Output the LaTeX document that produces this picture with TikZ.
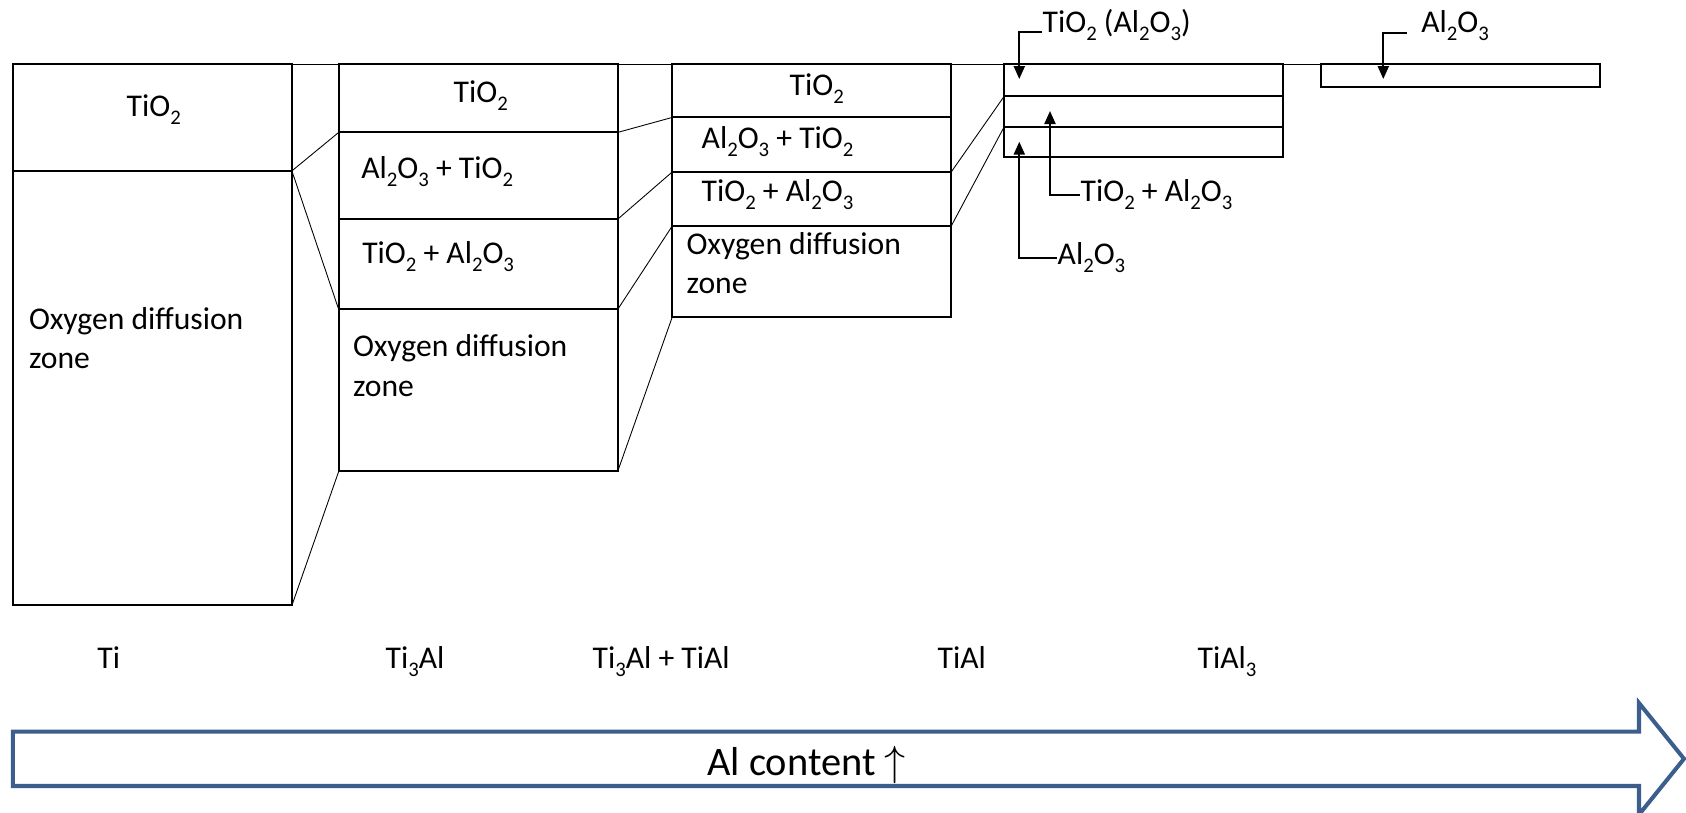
\documentclass[tikz,border=0pt]{standalone}
\usepackage{fontspec}
\setmainfont{Carlito}
\usetikzlibrary{arrows.meta, positioning}
\definecolor{arrowblue}{HTML}{3B5E8C}
\newcommand{\lowidx}[1]{\raisebox{-2.3pt}{\fontsize{5.9}{6}\selectfont #1}}
\newcommand{\TiOx}{TiO\lowidx{2}}
\newcommand{\AlOx}{Al\lowidx{2}O\lowidx{3}}

\begin{document}
\begin{tikzpicture}[x=0.1mm, y=-0.1mm,
    layer/.style={draw, line width=0.6pt, minimum width=27.9mm, inner sep=0pt, outer sep=0pt},
    link/.style={line width=0.25pt},
    lbl/.style={anchor=base west, inner sep=0pt, align=left, font=\fontsize{9}{11.1}\selectfont},
    callout/.style={line width=0.6pt, -{Triangle[length=1.3mm, width=1.1mm]}}]

    \useasboundingbox (0,0) rectangle (1686,813);

    % Ti
    \node (Ti_ox)   [layer, minimum height=10.65mm, anchor=north west] at (12.9,64.4) {};
    \node (Ti_odz)  [layer, minimum height=43.45mm, below=0pt of Ti_ox] {};

    % Ti3Al
    \node (Ti3_ox)  [layer, minimum height=6.8mm, anchor=north west] at (338.7,64.4) {};
    \node (Ti3_m1)  [layer, minimum height=8.68mm, below=0pt of Ti3_ox] {};
    \node (Ti3_m2)  [layer, minimum height=9.02mm, below=0pt of Ti3_m1] {};
    \node (Ti3_odz) [layer, minimum height=16.2mm, below=0pt of Ti3_m2] {};

    % Ti3Al + TiAl
    \node (Mix_ox)  [layer, minimum height=5.3mm, anchor=north west] at (672.3,64.4) {};
    \node (Mix_m1)  [layer, minimum height=5.45mm, below=0pt of Mix_ox] {};
    \node (Mix_m2)  [layer, minimum height=5.4mm, below=0pt of Mix_m1] {};
    \node (Mix_odz) [layer, minimum height=9.1mm, below=0pt of Mix_m2] {};

    % TiAl
    \node (TiAl_l1) [layer, minimum height=3.17mm, anchor=north west] at (1004.3,64.4) {};
    \node (TiAl_l2) [layer, minimum height=3.05mm, below=0pt of TiAl_l1] {};
    \node (TiAl_l3) [layer, minimum height=3.05mm, below=0pt of TiAl_l2] {};

    % TiAl3
    \node (TiAl3_l1) [layer, minimum height=2.3mm, anchor=north west] at (1321,64.4) {};

    \draw [line width=0.3pt] (Ti_ox.north west) -- (TiAl3_l1.north west);

    \node (t_ti_ox)    [lbl] at (126,116) {\TiOx};
    \node (t_ti_odz)   [lbl] at (28.3,368.3) {Oxygen diffusion\\zone};
    \node (t_ti3_ox)   [lbl] at (453,102.3) {\TiOx};
    \node (t_ti3_m1)   [lbl] at (360.7,178.3) {\AlOx{} + \TiOx};
    \node (t_ti3_m2)   [lbl] at (361.6,263.3) {\TiOx{} + \AlOx};
    \node (t_ti3_odz)  [lbl] at (352.3,396) {Oxygen diffusion\\zone};
    \node (t_mix_ox)   [lbl] at (789,95.5) {\TiOx};
    \node (t_mix_m1)   [lbl] at (701,148.5) {\AlOx{} + \TiOx};
    \node (t_mix_m2)   [lbl] at (701,201.5) {\TiOx{} + \AlOx};
    \node (t_mix_odz)  [lbl] at (686,293.3) {Oxygen diffusion\\zone};

    \draw [link] (Ti_ox.south east) -- (Ti3_ox.south west);
    \draw [link] (Ti_ox.south east) -- (Ti3_m2.south west);
    \draw [link] (Ti_odz.south east) -- (Ti3_odz.south west);
    \draw [link] (Ti3_ox.south east) -- (Mix_ox.south west);
    \draw [link] (Ti3_m1.south east) -- (Mix_m1.south west);
    \draw [link] (Ti3_m2.south east) -- (Mix_m2.south west);
    \draw [link] (Ti3_odz.south east) -- (Mix_odz.south west);
    \draw [link] (Mix_m1.south east) -- (TiAl_l1.south west);
    \draw [link] (Mix_m2.south east) -- (TiAl_l2.south west);

    \coordinate (tip_a) at (1019.3,79);
    \coordinate (tip_b) at (1050,111);
    \coordinate (tip_c) at (1019.3,141.7);
    \coordinate (tip_d) at (1383.3,79);

    \node (c_a) [lbl] at (1042,32.3) {\TiOx{} (\AlOx)};
    \node (c_b) [lbl, anchor=west] at (1080,195) {\TiOx{} + \AlOx};
    \node (c_c) [lbl, anchor=west] at (1057,257.7) {\AlOx};
    \node (c_d) [lbl, inner xsep=1.4mm] at (1406.7,32.7) {\AlOx};

    \draw [callout] (c_a.base west) -| (tip_a);
    \draw [callout] (c_b.west) -| (tip_b);
    \draw [callout] (c_c.west) -| (tip_c);
    \draw [callout] (c_d.base west) -| (tip_d);

    \node (n_ti)    [lbl] at (96.7,668.3) {Ti};
    \node (n_ti3al) [lbl] at (385,668.3) {Ti\lowidx{3}Al};
    \node (n_mix)   [lbl] at (592,668.3) {Ti\lowidx{3}Al + TiAl};
    \node (n_tial)  [lbl] at (937,668.3) {TiAl};
    \node (n_tial3) [lbl] at (1197,668.3) {TiAl\lowidx{3}};

    % Al content arrow
    \draw [draw=arrowblue, line width=1.15pt] (12.9,731.7) -- (1639,731.7) -- (1639,703) -- (1684,758.8)
        -- (1639,814.6) -- (1639,786) -- (12.9,786) -- cycle;
    \node (al_content) [anchor=base west, inner sep=0pt, font=\fontsize{11.5}{14}\selectfont] at (706.7,775) {Al content $\uparrow$};

\end{tikzpicture}
\end{document}
